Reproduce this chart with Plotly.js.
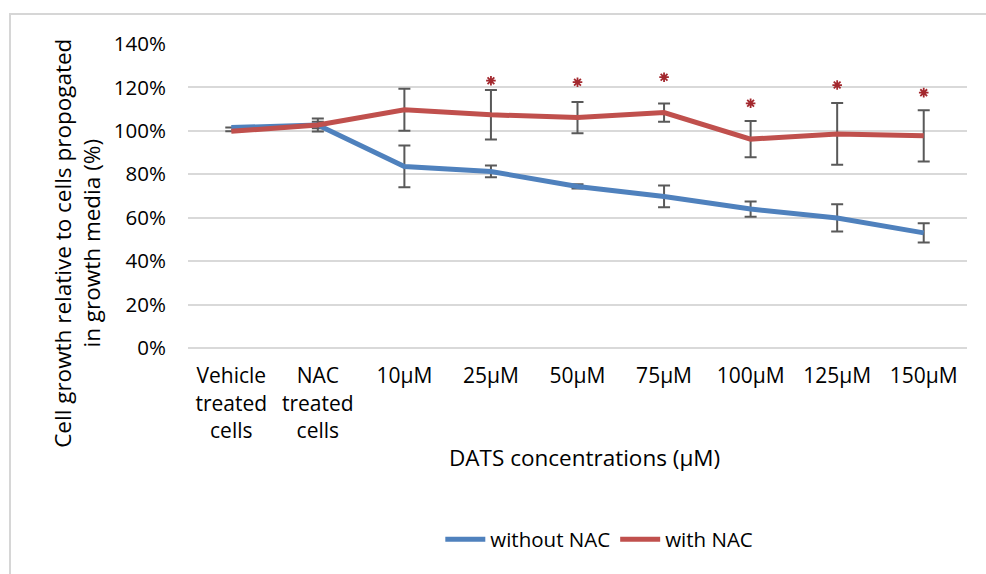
<!DOCTYPE html>
<html>
<head>
<meta charset="utf-8">
<script src="https://cdn.plot.ly/plotly-3.0.1.min.js"></script>
<style>
  html, body { margin: 0; padding: 0; background: #fff; }
  #wrap { position: relative; width: 986px; height: 574px; }
  #chart { width: 986px; height: 574px; }
  #frame { position: absolute; left: 9px; top: 13px; right: 0; bottom: 0;
           border-top: 2px solid #d6d6d6; border-left: 2px solid #d6d6d6; pointer-events: none; }
</style>
</head>
<body>
<div id="wrap">
  <div id="chart"></div>
  <div id="frame"></div>
</div>
<script>
const categories = ["Vehicle<br>treated<br>cells", "NAC<br>treated<br>cells", "10µM", "25µM", "50µM", "75µM", "100µM", "125µM", "150µM"];
const withoutNAC = [1.015, 1.027, 0.836, 0.813, 0.744, 0.698, 0.640, 0.599, 0.530];
const withoutNACErr = [0, 0.015, 0.096, 0.027, 0.010, 0.050, 0.035, 0.063, 0.044];
const withNAC = [0.998, 1.027, 1.097, 1.074, 1.061, 1.084, 0.962, 0.986, 0.977];
const withNACErr = [0, 0.030, 0.097, 0.114, 0.072, 0.042, 0.083, 0.142, 0.118];
const starCategories = ["25µM", "50µM", "75µM", "100µM", "125µM", "150µM"];
const starY = [1.231, 1.224, 1.247, 1.127, 1.211, 1.176];
const yTicks = [0, 0.2, 0.4, 0.6, 0.8, 1.0, 1.2, 1.4];

const font = "'Open Sans', 'Noto Sans', sans-serif";
const errStyle = { type: 'data', visible: true, color: '#595959', thickness: 2, width: 6 };

const traces = [
  {
    x: categories, y: withoutNAC, name: 'without NAC', type: 'scatter', mode: 'lines',
    line: { color: '#4f81bd', width: 5 },
    error_y: Object.assign({ array: withoutNACErr }, errStyle)
  },
  {
    x: categories, y: withNAC, name: 'with NAC', type: 'scatter', mode: 'lines',
    line: { color: '#c0504d', width: 5 },
    error_y: Object.assign({ array: withNACErr }, errStyle)
  },
  {
    x: starCategories.map(c => categories[categories.indexOf(c)]), y: starY,
    type: 'scatter', mode: 'markers', showlegend: false, hoverinfo: 'skip',
    marker: { symbol: 'asterisk-open', size: 8, line: { color: '#a3282e', width: 1.8 }, color: '#a3282e' }
  }
];

const layout = {
  width: 986, height: 574,
  margin: { l: 188, r: 19, t: 44, b: 225.5 },
  paper_bgcolor: '#ffffff', plot_bgcolor: '#ffffff',
  font: { family: font, size: 21, color: '#000000' },
  showlegend: true,
  legend: {
    orientation: 'h', x: 0.528, xanchor: 'center', y: -0.63, yanchor: 'middle',
    font: { family: font, size: 20.5, color: '#000' }, itemwidth: 40, traceorder: 'normal'
  },
  xaxis: {
    type: 'category', tickmode: 'array', tickvals: categories, ticktext: categories,
    showgrid: false, zeroline: false, showline: false,
    ticks: 'outside', ticklen: 9, tickcolor: 'rgba(0,0,0,0)',
    tickfont: { family: font, size: 21, color: '#000' },
    range: [-0.5, 8.5], fixedrange: true
  },
  yaxis: {
    range: [0, 1.4], tickmode: 'array', tickvals: yTicks, tickformat: '.0%',
    showgrid: true, gridcolor: '#d9d9d9', gridwidth: 2,
    zeroline: true, zerolinecolor: '#d9d9d9', zerolinewidth: 2, showline: false,
    ticks: 'outside', ticklen: 17, tickcolor: 'rgba(0,0,0,0)',
    tickfont: { family: font, size: 20.5, color: '#000' },
    fixedrange: true
  },
  annotations: [
    {
      text: 'Cell growth relative to cells propogated<br>in growth media (%)',
      xref: 'paper', yref: 'paper', x: -0.1425, y: 0.346, xanchor: 'center', yanchor: 'middle',
      textangle: -90, showarrow: false, align: 'center',
      font: { family: font, size: 22.5, color: '#000' }
    },
    {
      text: 'DATS concentrations (µM)',
      xref: 'paper', yref: 'paper', x: 0.509, y: -0.36, xanchor: 'center', yanchor: 'middle',
      showarrow: false, font: { family: font, size: 22.5, color: '#000' }
    }
  ]
};

Plotly.newPlot('chart', traces, layout, { displayModeBar: false, staticPlot: true });
</script>
</body>
</html>
